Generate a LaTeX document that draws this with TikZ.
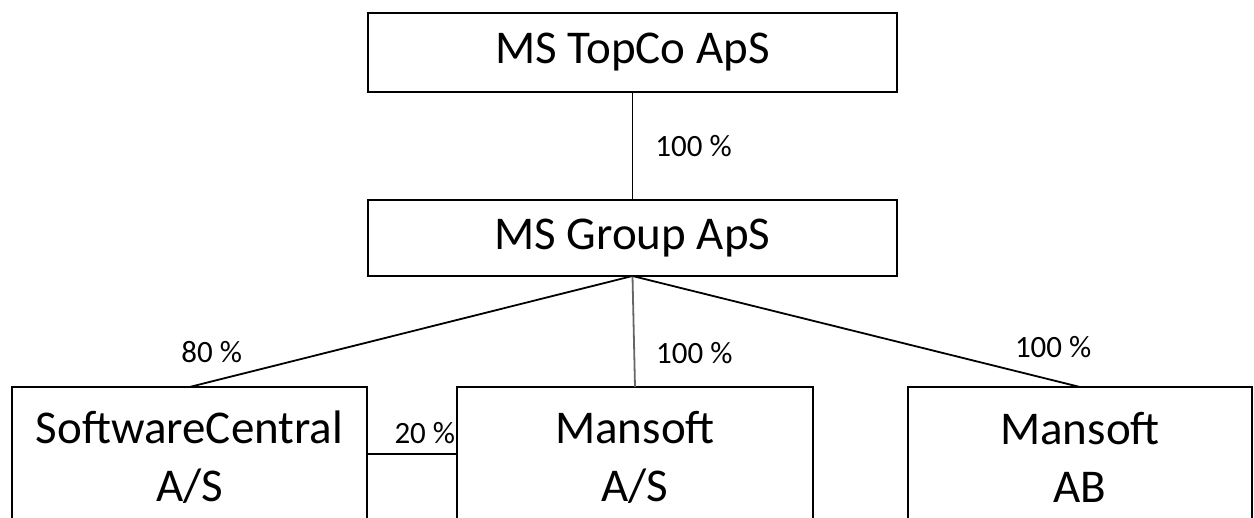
\documentclass[tikz,border=0pt]{standalone}
\usepackage{fontspec}
\setmainfont{Carlito}
\usetikzlibrary{positioning}

\begin{document}
\begin{tikzpicture}[x=1pt,y=-1pt,line width=1.8pt,node distance=100pt]
          \tikzstyle{company}=[draw=black,outer sep=0pt,inner sep=0pt,align=center,font=\fontsize{47}{58}\selectfont]
          \tikzstyle{share}=[font=\fontsize{31}{36}\selectfont,inner sep=0pt]
          \useasboundingbox (0,0) rectangle (1254,518);
          \clip (0,0) rectangle (1254,518);

          \node[company,minimum width=529pt,minimum height=79pt] (topco) at (632.5,52.5) {MS TopCo ApS};
          \node[company,minimum width=529pt,minimum height=76pt] (group) [below=108pt of topco] {MS Group ApS};
          \node[company,minimum width=356pt,minimum height=141pt] (mansoft) [below=111pt of group,xshift=2.5pt] {Mansoft\\A/S};
          \node[company,minimum width=355pt,minimum height=141pt] (swc) [left=90pt of mansoft] {SoftwareCentral\\A/S};
          \node[company,minimum width=344pt,minimum height=141pt] (ab) [right=95pt of mansoft] {Mansoft\\AB};

          \draw (topco) -- node[share,right=22pt] {100 \%} (group);
          \draw (group.south) -- node[share,pos=0.95,above=18pt] {80 \%} (swc.north);
          \draw[black!60] (group.south) -- node[share,text=black,pos=0.69,right=21pt] {100 \%} (mansoft.north);
          \draw (group.south) -- node[share,pos=0.94,above=22pt] {100 \%} (ab.north);
          \draw ([yshift=3.5pt]swc.east) -- node[share,pos=1,anchor=south east,yshift=9pt,xshift=-1pt] {20 \%} ([yshift=3.5pt]mansoft.west);

        \end{tikzpicture}
\end{document}
